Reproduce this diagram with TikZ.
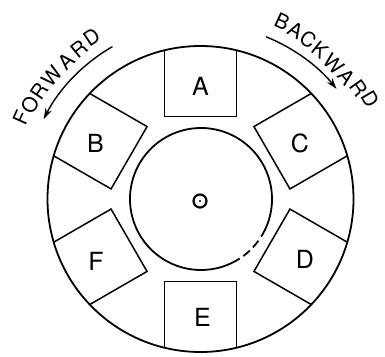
\documentclass[tikz,border=0pt]{standalone}
\usepackage{fontspec}
\setmainfont{TeX Gyre Heros}
\usetikzlibrary{arrows.meta}
\begin{document}
\begin{tikzpicture}[x=1pt,y=1pt,line width=1.5pt,
  boxlbl/.style={font=\fontsize{25}{25}\selectfont,inner sep=0pt},
  dirlbl/.style={font=\fontsize{20.5}{20.5}\selectfont,inner sep=0pt},
  ring/.style={line width=1.8pt},
  dirarrow/.style={line width=1.4pt,-{Stealth[length=11pt,width=7pt]}}]
\useasboundingbox (-200.5,-157) rectangle (184.5,199);
\coordinate (ctr) at (0,0);
% outer wheel
\draw[ring] (ctr) circle[radius=153];
% inner circle with a broken part
\draw[ring] (0.5,0) ++(-32:71) arc[start angle=-32,end angle=303,radius=71];
\draw[ring] (0.5,0) ++(-36:71) arc[start angle=-36,end angle=-43,radius=71];
\draw[ring] (0.5,0) ++(-46.5:71) arc[start angle=-46.5,end angle=-53.5,radius=71];
% boxes
\foreach \a in {90,150,30,-30,270,210}{
  \draw[rotate=\a-90] (-36,148.7) -- (-36,82.5) -- (36,82.5) -- (36,148.7);
}
% labels
\node[boxlbl] (A) at (0,113) {A};
\node[boxlbl] (B) at (-105,56) {B};
\node[boxlbl] (C) at (99.5,55.5) {C};
\node[boxlbl] (D) at (104.5,-60) {D};
\node[boxlbl] (E) at (2,-118.5) {E};
\node[boxlbl] (F) at (-104.5,-62) {F};
% centre mark
\draw[line width=2.2pt] (-0.5,-2) circle[radius=6.5];
\fill (-0.5,-2) circle[radius=1.1];
% direction arrows
\draw[dirarrow] (120:176) arc[start angle=120,end angle=153,radius=176];
\draw[dirarrow] (68:175) arc[start angle=68,end angle=39,radius=175];
% direction texts, letter by letter along the rim
\foreach \ch/\ang/\r [count=\i] in {F/155.6/197,O/151/195,R/146.2/194,W/140.4/193,A/134.3/192.5,R/129/193,D/124/195}{
  \node[dirlbl,rotate=\ang-90] (fw\i) at (\ang:\r) {\ch};
}
\foreach \ch/\ang/\r [count=\i] in {B/65.2/195,A/60.6/193.5,C/56/192.5,K/51.3/191,W/45.4/189.5,A/39.8/190,R/35.1/193,D/30.6/197}{
  \node[dirlbl,rotate=\ang-90] (bw\i) at (\ang:\r) {\ch};
}
\end{tikzpicture}
\end{document}
